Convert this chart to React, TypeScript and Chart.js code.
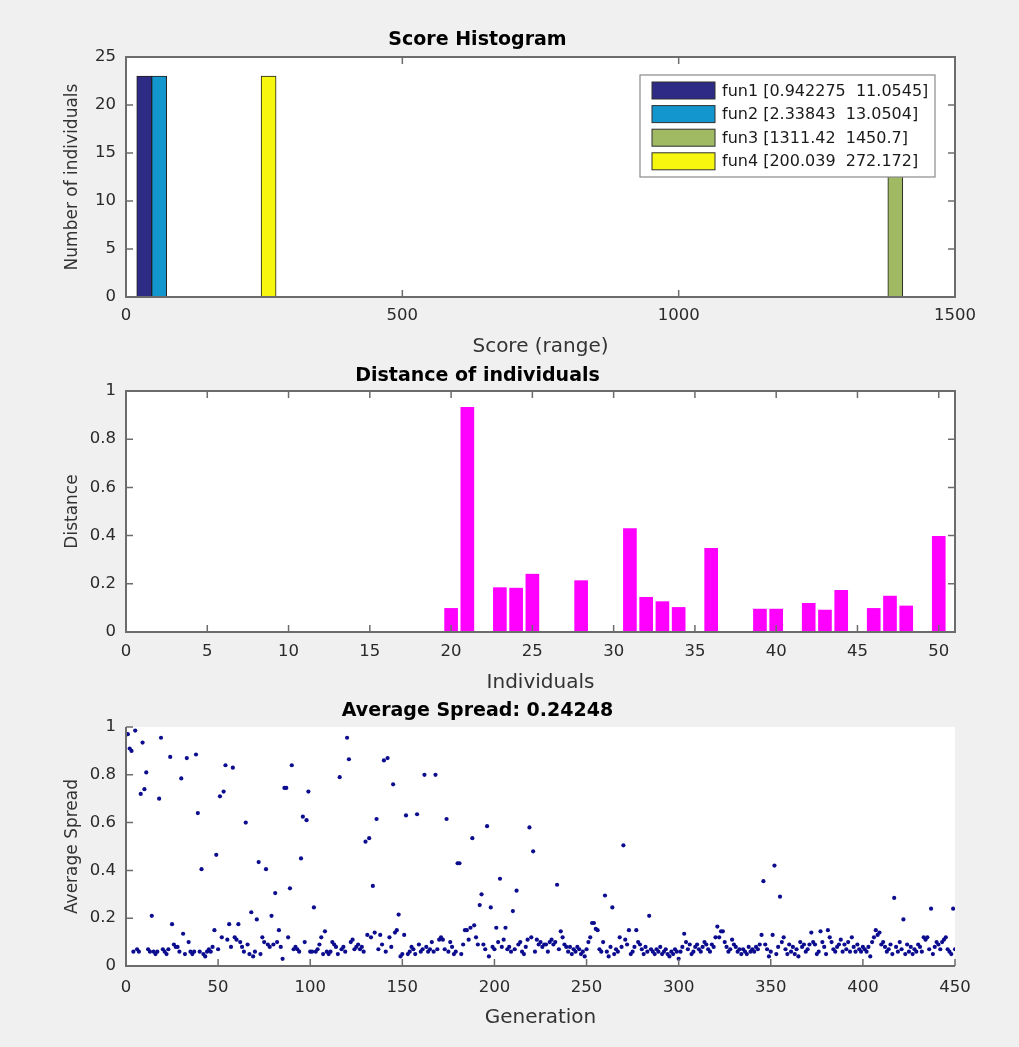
import React, { useEffect, useRef } from 'react';
import { Chart, registerables } from 'chart.js';
Chart.register(...registerables);

const FONT = "'DejaVu Sans', 'Liberation Sans', Arial, sans-serif";
const AXIS_COLOR = '#6c6c6c';
const TICK_TEXT = '#2a2a2a';

// ---------- Score histogram ----------
const histNames = ['fun1', 'fun2', 'fun3', 'fun4'];
const histRanges = ['[0.942275  11.0545]', '[2.33843  13.0504]', '[1311.42  1450.7]', '[200.039  272.172]'];
const histCenters = [33, 60, 1392, 258];
const histCounts = [23, 23, 23, 23];
const histColors = ['#2e2b87', '#1396ce', '#a0ba64', '#f6f60e'];
const histXTicks = [0, 500, 1000, 1500];
const histYTicks = [0, 5, 10, 15, 20, 25];

// ---------- Distance of individuals ----------
const individuals = [
  1, 2, 3, 4, 5, 6, 7, 8, 9, 10, 11, 12, 13, 14, 15, 16, 17, 18, 19, 20, 21, 22, 23, 24, 25,
  26, 27, 28, 29, 30, 31, 32, 33, 34, 35, 36, 37, 38, 39, 40, 41, 42, 43, 44, 45, 46, 47, 48, 49, 50,
];
const distances = [
  0, 0, 0, 0, 0, 0, 0, 0, 0, 0, 0, 0, 0, 0, 0, 0, 0, 0, 0, 0.098, 0.932, 0, 0.184, 0.182, 0.24,
  0, 0, 0.213, 0, 0, 0.429, 0.144, 0.126, 0.102, 0, 0.347, 0, 0, 0.095, 0.095, 0, 0.119, 0.091, 0.173, 0, 0.098, 0.149, 0.108, 0, 0.397,
];
const distXTicks = [0, 5, 10, 15, 20, 25, 30, 35, 40, 45, 50];
const unitTicks = [0, 0.2, 0.4, 0.6, 0.8, 1];

// ---------- Average spread ----------
const spread = [
  0.97, 0.91, 0.90, 0.06, 0.985, 0.07, 0.06, 0.72, 0.935, 0.74, 0.81, 0.07, 0.06, 0.21, 0.06, 0.05, 0.06, 0.70, 0.955, 0.07, 0.06, 0.05, 0.07, 0.875, 0.175,
  0.09, 0.08, 0.08, 0.06, 0.785, 0.135, 0.05, 0.87, 0.10, 0.06, 0.05, 0.06, 0.885, 0.64, 0.06, 0.405, 0.05, 0.04, 0.06, 0.07, 0.06, 0.08, 0.15, 0.465, 0.07,
  0.71, 0.12, 0.73, 0.84, 0.11, 0.175, 0.08, 0.83, 0.12, 0.11, 0.175, 0.10, 0.08, 0.06, 0.60, 0.09, 0.05, 0.225, 0.04, 0.06, 0.195, 0.435, 0.05, 0.12, 0.10,
  0.405, 0.09, 0.08, 0.21, 0.09, 0.305, 0.10, 0.15, 0.08, 0.03, 0.745, 0.745, 0.12, 0.325, 0.84, 0.07, 0.08, 0.07, 0.06, 0.45, 0.625, 0.10, 0.61, 0.73, 0.06,
  0.06, 0.245, 0.06, 0.07, 0.09, 0.12, 0.05, 0.145, 0.06, 0.05, 0.06, 0.10, 0.09, 0.08, 0.05, 0.79, 0.07, 0.08, 0.06, 0.955, 0.865, 0.10, 0.11, 0.07, 0.08,
  0.09, 0.07, 0.08, 0.06, 0.52, 0.13, 0.535, 0.12, 0.335, 0.14, 0.615, 0.07, 0.13, 0.09, 0.86, 0.06, 0.87, 0.12, 0.08, 0.76, 0.14, 0.15, 0.215, 0.04, 0.05,
  0.13, 0.63, 0.05, 0.06, 0.08, 0.07, 0.05, 0.635, 0.09, 0.06, 0.07, 0.80, 0.08, 0.06, 0.07, 0.10, 0.06, 0.80, 0.07, 0.11, 0.12, 0.11, 0.07, 0.615, 0.06,
  0.10, 0.08, 0.05, 0.06, 0.43, 0.43, 0.05, 0.09, 0.15, 0.15, 0.11, 0.16, 0.535, 0.17, 0.12, 0.09, 0.255, 0.30, 0.09, 0.07, 0.585, 0.04, 0.245, 0.08, 0.07,
  0.16, 0.10, 0.365, 0.08, 0.11, 0.16, 0.07, 0.08, 0.06, 0.23, 0.07, 0.315, 0.09, 0.10, 0.06, 0.05, 0.08, 0.11, 0.58, 0.12, 0.48, 0.06, 0.11, 0.09, 0.10,
  0.08, 0.09, 0.09, 0.06, 0.10, 0.11, 0.09, 0.10, 0.34, 0.07, 0.145, 0.12, 0.09, 0.08, 0.06, 0.08, 0.05, 0.07, 0.06, 0.08, 0.07, 0.05, 0.06, 0.04, 0.07,
  0.10, 0.12, 0.18, 0.18, 0.155, 0.15, 0.07, 0.06, 0.10, 0.295, 0.06, 0.04, 0.08, 0.245, 0.05, 0.07, 0.06, 0.12, 0.08, 0.505, 0.11, 0.09, 0.15, 0.05, 0.06,
  0.08, 0.15, 0.10, 0.09, 0.07, 0.05, 0.08, 0.06, 0.21, 0.07, 0.06, 0.05, 0.07, 0.06, 0.08, 0.05, 0.06, 0.07, 0.05, 0.04, 0.06, 0.05, 0.07, 0.06, 0.03,
  0.06, 0.08, 0.135, 0.10, 0.07, 0.09, 0.05, 0.06, 0.08, 0.09, 0.07, 0.06, 0.08, 0.10, 0.09, 0.07, 0.06, 0.09, 0.08, 0.12, 0.165, 0.12, 0.145, 0.145, 0.10,
  0.08, 0.06, 0.07, 0.11, 0.09, 0.08, 0.06, 0.07, 0.05, 0.07, 0.06, 0.05, 0.08, 0.06, 0.07, 0.06, 0.08, 0.07, 0.09, 0.13, 0.355, 0.09, 0.07, 0.04, 0.06,
  0.13, 0.42, 0.05, 0.08, 0.29, 0.10, 0.12, 0.07, 0.05, 0.09, 0.06, 0.08, 0.05, 0.07, 0.04, 0.10, 0.08, 0.09, 0.06, 0.07, 0.09, 0.14, 0.10, 0.09, 0.05,
  0.06, 0.145, 0.10, 0.08, 0.05, 0.15, 0.12, 0.10, 0.07, 0.06, 0.08, 0.09, 0.11, 0.06, 0.09, 0.07, 0.10, 0.06, 0.12, 0.08, 0.06, 0.09, 0.07, 0.06, 0.08,
  0.07, 0.06, 0.08, 0.04, 0.10, 0.12, 0.15, 0.13, 0.14, 0.09, 0.10, 0.08, 0.06, 0.07, 0.09, 0.05, 0.285, 0.08, 0.06, 0.10, 0.07, 0.195, 0.05, 0.09, 0.06,
  0.08, 0.05, 0.07, 0.06, 0.09, 0.08, 0.06, 0.12, 0.11, 0.12, 0.07, 0.24, 0.05, 0.08, 0.10, 0.09, 0.07, 0.10, 0.11, 0.12, 0.07, 0.06, 0.05, 0.24, 0.07,
];
const genTicks = [0, 50, 100, 150, 200, 250, 300, 350, 400, 450];

// ---------- helpers ----------
const fixedTicks = (arr: number[]) => (scale: any) => {
  scale.ticks = arr.map((v) => ({ value: v }));
};

const matlabAxes = (box: boolean, tickLen = 7) => ({
  id: 'matlabAxes',
  beforeDraw(chart: any) {
    const { ctx, chartArea: a } = chart;
    ctx.save();
    ctx.fillStyle = '#ffffff';
    ctx.fillRect(a.left, a.top, a.right - a.left, a.bottom - a.top);
    ctx.restore();
  },
  afterDatasetsDraw(chart: any) {
    const { ctx, chartArea: a, scales } = chart;
    ctx.save();
    ctx.strokeStyle = AXIS_COLOR;
    ctx.lineWidth = 1.5;
    ctx.beginPath();
    scales.x.ticks.forEach((t: any) => {
      const px = scales.x.getPixelForValue(t.value);
      ctx.moveTo(px, a.bottom);
      ctx.lineTo(px, a.bottom - tickLen);
      if (box) {
        ctx.moveTo(px, a.top);
        ctx.lineTo(px, a.top + tickLen);
      }
    });
    scales.y.ticks.forEach((t: any) => {
      const py = scales.y.getPixelForValue(t.value);
      ctx.moveTo(a.left, py);
      ctx.lineTo(a.left + tickLen, py);
      if (box) {
        ctx.moveTo(a.right, py);
        ctx.lineTo(a.right - tickLen, py);
      }
    });
    ctx.stroke();
    ctx.lineWidth = 2;
    ctx.beginPath();
    if (box) {
      ctx.rect(a.left, a.top, a.right - a.left, a.bottom - a.top);
    } else {
      ctx.moveTo(a.left, a.top);
      ctx.lineTo(a.left, a.bottom);
      ctx.lineTo(a.right, a.bottom);
    }
    ctx.stroke();
    ctx.restore();
  },
});

const histLegend = {
  id: 'histLegend',
  afterDraw(chart: any) {
    const { ctx, chartArea: a } = chart;
    const w = 295;
    const h = 102;
    const x0 = a.right - 20 - w;
    const y0 = a.top + 18;
    ctx.save();
    ctx.fillStyle = '#ffffff';
    ctx.fillRect(x0, y0, w, h);
    ctx.strokeStyle = '#8a8a8a';
    ctx.lineWidth = 1.2;
    ctx.strokeRect(x0, y0, w, h);
    ctx.font = `16px ${FONT}`;
    ctx.textBaseline = 'middle';
    ctx.textAlign = 'left';
    chart.data.datasets.forEach((ds: any, i: number) => {
      const cy = y0 + 15.5 + i * 23.6;
      ctx.fillStyle = ds.backgroundColor;
      ctx.fillRect(x0 + 12, cy - 8.5, 63, 17);
      ctx.strokeStyle = '#303030';
      ctx.lineWidth = 1;
      ctx.strokeRect(x0 + 12, cy - 8.5, 63, 17);
      ctx.fillStyle = '#1a1a1a';
      ctx.fillText(ds.label, x0 + 82, cy + 1);
    });
    ctx.restore();
  },
};

const xScale = (min: number, max: number, ticks: number[], title: string, height: number, tickPad: number, titlePad: number) => ({
  type: 'linear',
  min,
  max,
  offset: false,
  afterBuildTicks: fixedTicks(ticks),
  afterFit: (s: any) => {
    s.height = height;
  },
  grid: { display: false, drawTicks: false },
  border: { display: false },
  ticks: {
    color: TICK_TEXT,
    font: { size: 16.5, family: FONT },
    padding: tickPad,
    maxRotation: 0,
    autoSkip: false,
    callback: (v: any) => String(v),
  },
  title: {
    display: true,
    text: title,
    color: '#333333',
    font: { size: 20, family: FONT },
    padding: { top: 0, bottom: titlePad },
  },
});

const yScale = (min: number, max: number, ticks: number[], title: string) => ({
  type: 'linear',
  min,
  max,
  afterBuildTicks: fixedTicks(ticks),
  afterFit: (s: any) => {
    s.width = 126;
  },
  grid: { display: false, drawTicks: false },
  border: { display: false },
  ticks: {
    color: TICK_TEXT,
    font: { size: 16.5, family: FONT },
    padding: 10,
    autoSkip: false,
    callback: (v: any) => String(v),
  },
  title: {
    display: true,
    text: title,
    color: '#333333',
    font: { size: 17, family: FONT },
    padding: { top: 62, bottom: 0 },
  },
});

const titleOpts = (text: string, top: number, bottom: number) => ({
  display: true,
  text,
  color: '#000000',
  font: { size: 19, weight: 'bold', family: FONT },
  padding: { top, bottom },
});

function useChart(ref: React.RefObject<HTMLCanvasElement>, makeConfig: () => any) {
  useEffect(() => {
    if (!ref.current) return;
    const chart = new Chart(ref.current, makeConfig());
    return () => chart.destroy();
  }, []);
}

export default function App() {
  const c1 = useRef<HTMLCanvasElement>(null);
  const c2 = useRef<HTMLCanvasElement>(null);
  const c3 = useRef<HTMLCanvasElement>(null);

  useChart(c1, () => ({
    type: 'bar',
    data: {
      datasets: histNames.map((n, i) => ({
        label: `${n} ${histRanges[i]}`,
        data: [{ x: histCenters[i], y: histCounts[i] }],
        backgroundColor: histColors[i],
        borderColor: '#1e1e1e',
        borderWidth: 1,
        barThickness: 15,
        grouped: false,
      })),
    },
    options: {
      responsive: false,
      animation: false,
      events: [],
      layout: { padding: { left: 0, right: 64, top: 0, bottom: 0 } },
      plugins: {
        legend: { display: false },
        tooltip: { enabled: false },
        title: titleOpts('Score Histogram', 28.6, 5.6),
      },
      scales: {
        x: xScale(0, 1500, histXTicks, 'Score (range)', 65, 9, 3),
        y: yScale(0, 25, histYTicks, 'Number of individuals'),
      },
    },
    plugins: [matlabAxes(true), histLegend],
  }));

  useChart(c2, () => ({
    type: 'bar',
    data: {
      datasets: [
        {
          label: 'Distance',
          data: individuals.map((ind, i) => ({ x: ind, y: distances[i] })),
          backgroundColor: '#ff00ff',
          borderWidth: 0,
          barThickness: 13,
          grouped: false,
        },
      ],
    },
    options: {
      responsive: false,
      animation: false,
      events: [],
      layout: { padding: { left: 0, right: 64, top: 0, bottom: 0 } },
      plugins: {
        legend: { display: false },
        tooltip: { enabled: false },
        title: titleOpts('Distance of individuals', 2.6, 3.6),
      },
      scales: {
        x: xScale(0, 51, distXTicks, 'Individuals', 66, 10, 3),
        y: yScale(0, 1, unitTicks, 'Distance'),
      },
    },
    plugins: [matlabAxes(true)],
  }));

  useChart(c3, () => ({
    type: 'scatter',
    data: {
      datasets: [
        {
          label: 'Average Spread',
          data: spread.map((v, i) => ({ x: i + 1, y: v })),
          backgroundColor: '#0c0c8e',
          borderWidth: 0,
          pointRadius: 2.1,
          pointStyle: 'circle',
        },
      ],
    },
    options: {
      responsive: false,
      animation: false,
      events: [],
      layout: { padding: { left: 0, right: 64, top: 0, bottom: 0 } },
      plugins: {
        legend: { display: false },
        tooltip: { enabled: false },
        title: titleOpts('Average Spread: 0.24248', 1.6, 4.6),
      },
      scales: {
        x: xScale(0, 450, genTicks, 'Generation', 81, 12, 17),
        y: yScale(0, 1, unitTicks, 'Average Spread'),
      },
    },
    plugins: [matlabAxes(false)],
  }));

  const canvasStyle = (top: number, h: number): React.CSSProperties => ({
    position: 'absolute',
    left: 0,
    top,
    width: 1019,
    height: h,
  });

  return (
    <div
      style={{
        position: 'absolute',
        left: 0,
        top: 0,
        width: 1019,
        height: 1047,
        background: '#f0f0f0',
        overflow: 'hidden',
      }}
    >
      <canvas ref={c1} width={1019} height={362} style={canvasStyle(0, 362)} />
      <canvas ref={c2} width={1019} height={336} style={canvasStyle(362, 336)} />
      <canvas ref={c3} width={1019} height={349} style={canvasStyle(698, 349)} />
    </div>
  );
}
